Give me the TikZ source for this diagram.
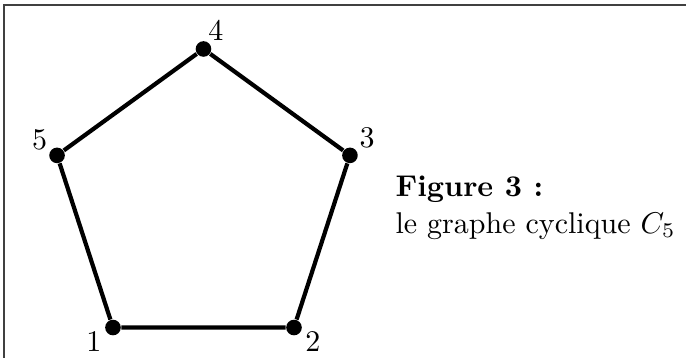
\documentclass[tikz,border=0pt]{standalone}
\usepackage{xcolor}
\usepackage{amsmath}
\usepackage{tikz}
\usetikzlibrary{positioning,calc}

\tikzset{
  sommet/.style={circle, fill=black, inner sep=0pt, minimum size=5.2pt},
  arete/.style={line width=1.4pt},
  etiq/.style={inner sep=0pt}
}

\begin{document}
\begin{tikzpicture}
    \useasboundingbox (0,0) rectangle (8.037,4.194);
    % cadre
    \draw[black!75, line width=0.45pt] (0.047,-0.2) -- (0.047,4.135) -- (8.3,4.135);
    % sommets du pentagone
    \coordinate (centre) at (2.384,1.816);
    \foreach \k/\ang/\dist in {1/195/1pt, 2/-18/1pt, 3/35/0.9pt, 4/60/0.1pt, 5/155/0.6pt}
      \node[sommet, label={[etiq, label distance=\dist]\ang:\k}] (v\k)
        at ($(centre)+({90+72*(\k-4)}:1.804)$) {};
    % aretes
    \draw[arete] (v1) -- (v2) -- (v3) -- (v4) -- (v5) -- (v1);
    % legende
    \node[anchor=base west, inner sep=0pt] (titre) at (4.627,1.886) {\textbf{Figure 3 :}};
    \node[anchor=base west, inner sep=0pt] (legende) at (4.627,1.464) {le graphe cyclique $C_5$};
  \end{tikzpicture}
\end{document}
